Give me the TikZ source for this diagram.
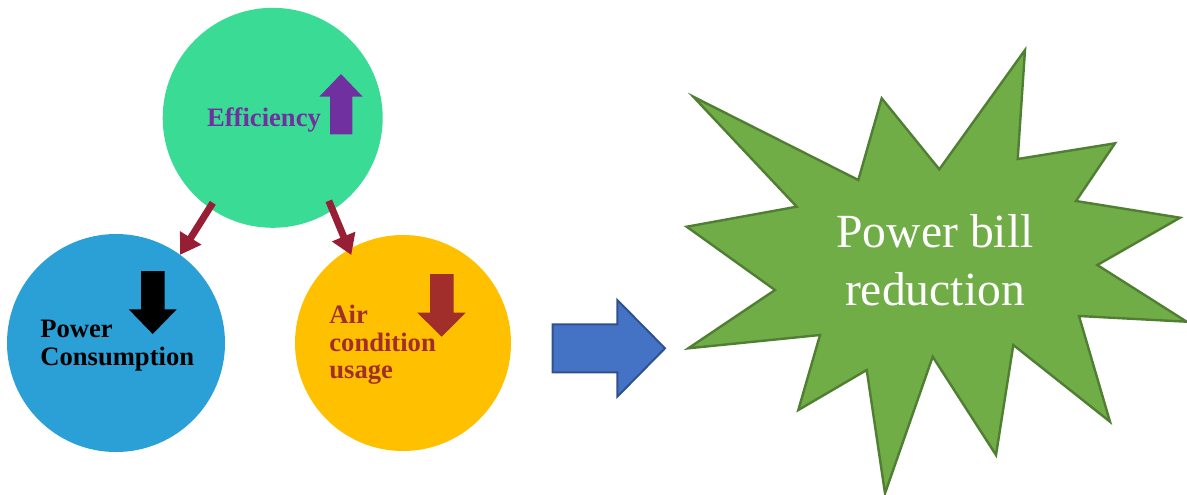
\documentclass[tikz,border=0pt]{standalone}
\usepackage{fontspec}
\setmainfont{Liberation Serif}
\usetikzlibrary{arrows.meta}
\definecolor{effgreen}{HTML}{3ADC95}
\definecolor{powblue}{HTML}{2AA0D7}
\definecolor{airorange}{HTML}{FFC000}
\definecolor{effpurple}{HTML}{7030A0}
\definecolor{linkred}{HTML}{971E34}
\definecolor{airred}{HTML}{A22E2B}
\definecolor{billgreen}{HTML}{70AD47}
\definecolor{billedge}{HTML}{507E32}
\definecolor{pushblue}{HTML}{4472C4}
\definecolor{pushedge}{HTML}{2F528F}
\tikzset{
  bubble/.style={circle, draw=none, inner sep=0pt, outer sep=0pt},
  lbl/.style={inner sep=0pt, align=left, font=\fontsize{13.3pt}{13.7pt}\selectfont\bfseries},
  conn/.style={draw=linkred, line width=3.5pt, -{Triangle[width=12pt, length=10pt]}}
}

\begin{document}
\begin{tikzpicture}[x=0.5pt, y=-0.5pt]
\useasboundingbox (0,0) rectangle (1187,494);
\node[bubble, fill=effgreen, minimum size=110pt] (eff) at (272.7,117.8) {};
\node[bubble, fill=powblue, minimum size=109pt] (pow) at (116,343) {};
\node[bubble, fill=airorange, minimum size=108pt] (air) at (403,343) {};

\draw[conn, shorten <=-3pt] (eff.-125) -- (pow.54);
\draw[conn, shorten <=-5pt, shorten >=-3pt] (eff.-57) -- (air.120);

% block arrows inside the bubbles
\fill[effpurple] (330,134.3) -- (330,96.7) -- (319.3,96.7) -- (341,74) -- (362.7,96.7) -- (352.3,96.7) -- (352.3,134.3) -- cycle;
\fill[black] (141,271) -- (141,309.3) -- (128.7,309.3) -- (152.7,334) -- (176.7,309.3) -- (164.7,309.3) -- (164.7,271) -- cycle;
\fill[airred] (430,274) -- (430,312.7) -- (417.3,312.7) -- (441.7,336.7) -- (465.7,312.7) -- (453.7,312.7) -- (453.7,274) -- cycle;

\node[lbl, text=effpurple, anchor=base west] (efftext) at (206.7,126) {Efficiency};
\node[lbl, text=black, anchor=north west] (powtext) at (40,320) {Power\\Consumption};
\node[lbl, text=airred, anchor=north west] (airtext) at (329,305) {Air\\condition\\usage};

\draw[fill=pushblue, draw=pushedge, line width=1pt, line join=miter] (552.7,324.3) -- (617.3,324.3) -- (617.3,300) -- (665,348.3) -- (617.3,396.7) -- (617.3,372.3) -- (552.7,372.3) -- cycle;

% the burst
\draw[fill=billgreen, draw=billedge, line width=1.2pt, line join=miter]
  (693.3,96.7) -- (796.7,206.7) -- (686.7,226.7) -- (775,290) -- (688.3,348.3) -- (820,335)
  -- (798.3,410) -- (866.7,370) -- (885,493.3) -- (932.7,356.7) -- (996,455) -- (1013.3,345)
  -- (1110,421.7) -- (1079,316) -- (1186.7,321.7) -- (1097.3,265) -- (1180,217.7) -- (1076,201)
  -- (1115,143.3) -- (1017.7,159) -- (1025,50) -- (939.3,169.3) -- (881.7,98.3) -- (858.3,180) -- cycle;
\node[inner sep=0pt, align=center, text=white, anchor=north, font=\fontsize{23.8pt}{29.2pt}\selectfont] (bill) at (935,214) {Power bill\\reduction};
\end{tikzpicture}
\end{document}
